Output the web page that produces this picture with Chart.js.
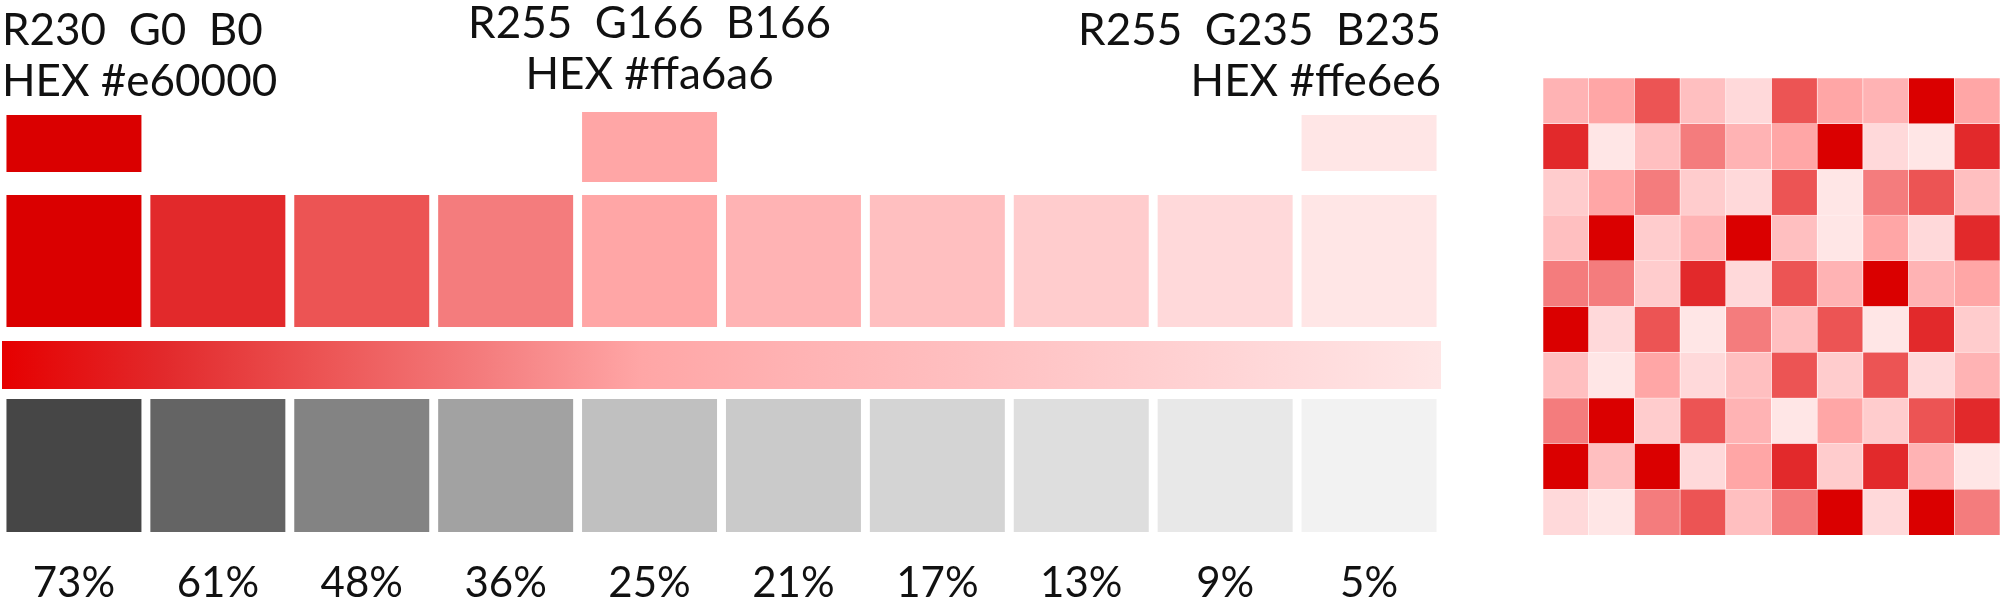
<!DOCTYPE html>
<html>
<head>
<meta charset="utf-8">
<script src="https://cdn.jsdelivr.net/npm/chart.js@4"></script>
<style>
  body { margin: 0; background: #fff; width: 2000px; height: 606px; overflow: hidden; position: relative; }
  canvas { position: absolute; }
</style>
</head>
<body>
<canvas id="main" width="1460" height="606" style="left:0;top:0"></canvas>
<canvas id="grad" width="1439" height="48" style="left:2px;top:341px"></canvas>
<canvas id="grid" width="457" height="457" style="left:1543px;top:78px"></canvas>
<script>
var percents = ["73%", "61%", "48%", "36%", "25%", "21%", "17%", "13%", "9%", "5%"];
var reds = ["#da0000", "#e2292b", "#ec5454", "#f47c7d", "#ffa6a6", "#ffb3b4", "#ffbfc0", "#ffcccd", "#ffd9da", "#ffe6e6"];
var grays = ["#464646", "#646464", "#838383", "#a2a2a2", "#c0c0c0", "#cacaca", "#d4d4d4", "#dedede", "#e8e8e8", "#f2f2f2"];
var headerCols = [0, 4, 9];
var headerText = [["R230  G0  B0", "HEX #e60000"], ["R255  G166  B166", "HEX #ffa6a6"], ["R255  G235  B235", "HEX #ffe6e6"]];
// heatmap: palette index per cell, top row first
var gridLevels = [
  [5, 4, 2, 6, 8, 2, 4, 5, 0, 4],
  [1, 9, 6, 3, 5, 4, 0, 8, 9, 1],
  [7, 4, 3, 7, 8, 2, 9, 3, 2, 6],
  [6, 0, 7, 5, 0, 6, 9, 4, 8, 1],
  [3, 3, 7, 1, 8, 2, 5, 0, 5, 4],
  [0, 8, 2, 9, 3, 6, 2, 9, 1, 7],
  [6, 9, 4, 8, 6, 2, 7, 2, 8, 5],
  [3, 0, 7, 2, 5, 9, 4, 7, 2, 1],
  [0, 6, 0, 8, 4, 1, 7, 1, 5, 9],
  [8, 9, 3, 2, 6, 3, 0, 8, 0, 3]
];

var FONT = "Lato, 'Open Sans', sans-serif";
var headerBand = { 0: [115, 172], 4: [112, 182], 9: [115, 171] };

var textPlugin = {
  id: "texts",
  afterDraw: function (chart) {
    var ctx = chart.ctx, x = chart.scales.x;
    ctx.save();
    ctx.fillStyle = "#111";
    ctx.textBaseline = "alphabetic";
    ctx.font = "44px " + FONT;
    headerCols.forEach(function (c, i) {
      var lines = headerText[i];
      var ys = i === 1 ? [38, 89] : [45, 96];
      if (i === 0) { ctx.textAlign = "left"; lines.forEach(function (t, j) { ctx.fillText(t, 2, ys[j]); }); }
      else if (i === 1) { ctx.textAlign = "center"; lines.forEach(function (t, j) { ctx.fillText(t, x.getPixelForValue(c), ys[j]); }); }
      else { ctx.textAlign = "right"; lines.forEach(function (t, j) { ctx.fillText(t, 1441, ys[j]); }); }
    });
    ctx.font = "42px " + FONT;
    ctx.textAlign = "center";
    ctx.textBaseline = "middle";
    percents.forEach(function (p, i) { ctx.fillText(p, x.getPixelForValue(i), 583); });
    ctx.restore();
  }
};

new Chart("main", {
  type: "bar",
  data: {
    labels: percents,
    datasets: [
      { data: percents.map(function (p, i) { return headerBand[i] || null; }), backgroundColor: percents.map(function (p, i) { return reds[i]; }) },
      { data: percents.map(function () { return [195, 327]; }), backgroundColor: reds },
      { data: percents.map(function () { return [399, 532]; }), backgroundColor: grays }
    ]
  },
  options: {
    responsive: false, animation: false, devicePixelRatio: 1,
    layout: { padding: { left: 2, right: 19, top: 0, bottom: 0 } },
    datasets: { bar: { grouped: false, barPercentage: 0.938, categoryPercentage: 1, borderWidth: 0 } },
    plugins: { legend: { display: false }, tooltip: { enabled: false } },
    scales: {
      x: { display: false },
      y: { display: false, reverse: true, min: 0, max: 606 }
    }
  },
  plugins: [textPlugin]
});

new Chart("grad", {
  type: "bar",
  data: { labels: [""], datasets: [{ data: [[0, 1]], backgroundColor: function (c) {
    var a = c.chart.chartArea;
    if (!a) return reds[0];
    var g = c.chart.ctx.createLinearGradient(a.left, 0, a.right, 0);
    g.addColorStop(0, "#e60000");
    reds.forEach(function (col, i) { if (i > 0) g.addColorStop(i / (reds.length - 1), col); });
    return g;
  } }] },
  options: {
    indexAxis: "y", responsive: false, animation: false, devicePixelRatio: 1,
    layout: { padding: 0 },
    datasets: { bar: { barPercentage: 1, categoryPercentage: 1, borderWidth: 0 } },
    plugins: { legend: { display: false }, tooltip: { enabled: false } },
    scales: { x: { display: false, min: 0, max: 1 }, y: { display: false } }
  }
});

var cols = gridLevels[0].map(function (v, i) { return "c" + i; });
new Chart("grid", {
  type: "bar",
  data: {
    labels: cols,
    datasets: gridLevels.slice().reverse().map(function (row) {
      return { data: row.map(function () { return 1; }), backgroundColor: row.map(function (l) { return reds[l]; }) };
    })
  },
  options: {
    responsive: false, animation: false, devicePixelRatio: 1,
    layout: { padding: 0 },
    datasets: { bar: { barPercentage: 1, categoryPercentage: 1, borderWidth: 0.6, borderColor: "rgba(255,255,255,0.6)" } },
    plugins: { legend: { display: false }, tooltip: { enabled: false } },
    scales: { x: { display: false, stacked: true }, y: { display: false, stacked: true, min: 0, max: 10 } }
  }
});
</script>
</body>
</html>
